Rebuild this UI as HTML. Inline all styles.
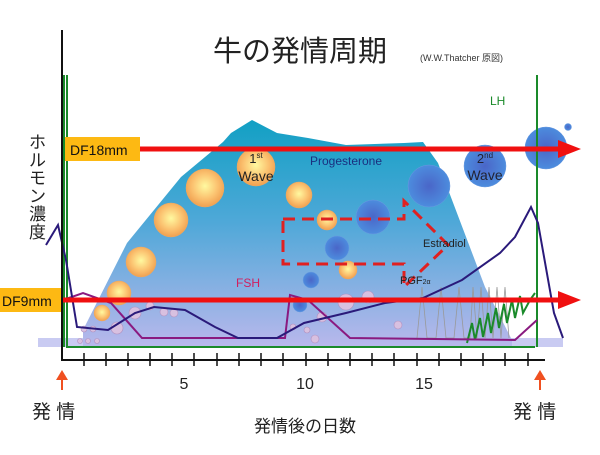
<!DOCTYPE html>
<html><head><meta charset="utf-8"><style>
body{margin:0;background:#fff;width:600px;height:450px;overflow:hidden}
text{font-family:"Liberation Sans","Noto Sans CJK JP",sans-serif}
</style></head><body>
<svg width="600" height="450" viewBox="0 0 600 450" xmlns="http://www.w3.org/2000/svg">
<defs>
<linearGradient id="pg" x1="0" y1="0" x2="0" y2="1">
<stop offset="0" stop-color="#12a0c4"/><stop offset="0.45" stop-color="#4fa8d8"/><stop offset="1" stop-color="#b9b8ec"/></linearGradient>
<radialGradient id="or" cx="0.5" cy="0.45" r="0.55"><stop offset="0" stop-color="#fff9a0"/><stop offset="0.6" stop-color="#fbc270"/><stop offset="1" stop-color="#f0a050"/></radialGradient>
<radialGradient id="bl" cx="0.5" cy="0.5" r="0.55"><stop offset="0" stop-color="#4a66c8"/><stop offset="1" stop-color="#4d90e0"/></radialGradient>
</defs>
<text x="300" y="61" font-size="29" text-anchor="middle" fill="#222">牛の発情周期</text>
<text x="420" y="61" font-size="9" fill="#333">(W.W.Thatcher 原図)</text>
<text font-size="17" fill="#222"><tspan x="29" y="148">ホ</tspan><tspan x="29" y="166">ル</tspan><tspan x="29" y="184">モ</tspan><tspan x="29" y="202">ン</tspan><tspan x="29" y="220">濃</tspan><tspan x="29" y="238">度</tspan></text>
<polygon points="38,338 563,338 563,347 38,347" fill="#c9cbf2"/>
<polygon points="83,330 127,243 181,177 223,142 231,133 252,120 277,133 308,138 346,145 404,143 423,142 438,163 485,287 512,340 512,347 83,347" fill="url(#pg)"/>
<g fill="url(#or)" stroke="#f0a860" stroke-width="0.5">
<circle cx="102" cy="313" r="8"/><circle cx="119" cy="293" r="12"/><circle cx="141" cy="262" r="15"/><circle cx="171" cy="220" r="17"/><circle cx="205" cy="188" r="19"/><circle cx="256" cy="167" r="19"/><circle cx="299" cy="195" r="13"/><circle cx="327" cy="220" r="10"/><circle cx="348" cy="270" r="9"/></g>
<g fill="url(#bl)" stroke="#6a9ae0" stroke-width="0.5">
<circle cx="311" cy="280" r="8"/><circle cx="337" cy="248" r="12"/><circle cx="373" cy="217" r="17"/><circle cx="429" cy="186" r="21"/><circle cx="485" cy="166" r="21"/><circle cx="546" cy="148" r="21"/><circle cx="300" cy="305" r="7"/><circle cx="568" cy="127" r="3.5"/></g>
<g fill="#d8c0e0" stroke="#b090c0" stroke-width="0.6">
<circle cx="135" cy="313" r="6"/><circle cx="117" cy="328" r="6"/><circle cx="150" cy="306" r="4"/><circle cx="164" cy="312" r="4"/><circle cx="174" cy="313" r="4"/><circle cx="84" cy="329" r="3"/><circle cx="93" cy="329" r="3"/><circle cx="346" cy="302" r="8"/><circle cx="368" cy="297" r="6"/><circle cx="322" cy="317" r="5"/><circle cx="398" cy="325" r="4"/><circle cx="293" cy="327" r="3"/><circle cx="307" cy="330" r="3"/><circle cx="315" cy="339" r="4"/><circle cx="80" cy="341" r="2.5"/><circle cx="88" cy="341" r="2.5"/><circle cx="97" cy="341" r="2.5"/></g>
<g stroke="#999" stroke-width="0.8" fill="none"><path d="M417,338 L422,287 L427,338 L436,338 L441,287 L446,338 L454,338 L459,287 L464,338 L470,338 L473,287 L477,338 L481,287 L485,338 L489,287 L493,338 L497,287 L501,338 L505,287 L509,338"/></g>
<path d="M67,75 L67,347 L535,347 M64,75 L64,347 M537,75 L537,347" stroke="#1a8a2a" stroke-width="2" fill="none"/>
<path d="M467,343 L472,323 L475,340 L480,318 L483,337 L488,313 L491,333 L496,308 L499,328 L504,304 L507,323 L512,300 L515,318 L520,296 L523,313 L530,300 L535,293" stroke="#1a8a2a" stroke-width="2" fill="none"/>
<path d="M63,300 L83,293 L111,303 L142,338 L285,338 L290,295 L308,300 L350,338 L515,340 L537,320" stroke="#8a1a80" stroke-width="2" fill="none"/>
<path d="M46,245 L58,225 L66,260 L77,327 L108,330 L135,313 L154,307 L185,310 L215,327 L238,338 L277,338 L304,323 L346,313 L385,303 L423,298 L462,280 L500,253 L515,237 L531,207 L538,223 L554,313 L563,338" stroke="#2a1a7a" stroke-width="2" fill="none"/>
<path d="M283,219 L404,219 L404,201 L448,245 L404,287 L404,264 L283,264 Z" stroke="#e02020" stroke-width="3" stroke-dasharray="12,7" fill="none"/>
<text x="256" y="163" font-size="13" text-anchor="middle" fill="#222">1<tspan font-size="8" dy="-5">st</tspan></text>
<text x="256" y="181" font-size="14" text-anchor="middle" fill="#222">Wave</text>
<text x="485" y="163" font-size="13" text-anchor="middle" fill="#223">2<tspan font-size="8" dy="-5">nd</tspan></text>
<text x="485" y="180" font-size="14" text-anchor="middle" fill="#223">Wave</text>
<text x="346" y="165" font-size="12" text-anchor="middle" fill="#1a3080">Progesterone</text>
<text x="423" y="247" font-size="11" fill="#222">Estradiol</text>
<text x="400" y="284" font-size="11" fill="#222">PGF<tspan font-size="7">2α</tspan></text>
<text x="236" y="287" font-size="12" fill="#d02060">FSH</text>
<text x="490" y="105" font-size="12" fill="#1a8a2a">LH</text>
<rect x="65" y="137" width="75" height="24" fill="#fdb913"/>
<text x="70" y="155" font-size="14" fill="#111">DF18mm</text>
<rect x="0" y="288" width="63" height="24" fill="#fdb913"/>
<text x="2" y="306" font-size="14" fill="#111">DF9mm</text>
<path d="M140,149 L560,149" stroke="#f01010" stroke-width="5"/><polygon points="558,140 581,149 558,158" fill="#f01010"/>
<path d="M63,300 L560,300" stroke="#f01010" stroke-width="5"/><polygon points="558,291 581,300 558,309" fill="#f01010"/>
<path d="M62,30 L62,360 L545,360" stroke="#111" stroke-width="2" fill="none"/>
<g stroke="#111" stroke-width="1.5">
<path d="M84,353V366M106,353V366M128,353V366M150,353V366M172,353V366M194,353V366M217,353V366M239,353V366M261,353V366M283,353V366M306,353V366M328,353V366M350,353V366M372,353V366M394,353V366M417,353V366M439,353V366M461,353V366M483,353V366M505,353V366M528,353V366"/></g>
<text x="184" y="389" font-size="16" text-anchor="middle" fill="#222">5</text>
<text x="305" y="389" font-size="16" text-anchor="middle" fill="#222">10</text>
<text x="424" y="389" font-size="16" text-anchor="middle" fill="#222">15</text>
<path d="M62,390V376M540,390V376" stroke="#f05020" stroke-width="2"/>
<polygon points="56,380 62,370 68,380" fill="#f05020"/><polygon points="534,380 540,370 546,380" fill="#f05020"/>
<text x="32" y="418" font-size="19" fill="#222">発 情</text>
<text x="513" y="418" font-size="19" fill="#222">発 情</text>
<text x="305" y="432" font-size="17" text-anchor="middle" fill="#222">発情後の日数</text>
</svg>
</body></html>
